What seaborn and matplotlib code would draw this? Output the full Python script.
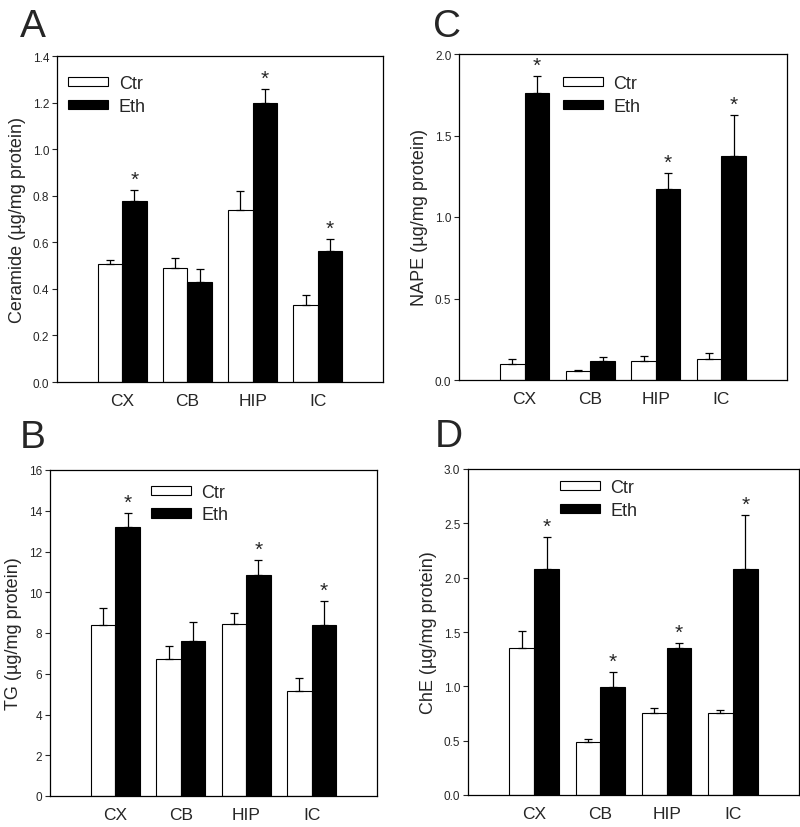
import matplotlib
matplotlib.use("Agg")
import matplotlib.pyplot as plt
import seaborn as sns
import pandas as pd
import numpy as np

# ---------------- data ----------------
regions = ['CX', 'CB', 'HIP', 'IC']
groups = ['Ctr', 'Eth']

# A: Ceramide
cer_ctr = [0.505, 0.49, 0.739, 0.329]
cer_ctr_err = [0.02, 0.041, 0.081, 0.043]
cer_eth = [0.776, 0.428, 1.197, 0.561]
cer_eth_err = [0.047, 0.059, 0.06, 0.053]
cer_sig = [True, False, True, True]

# B: TG
tg_ctr = [8.39, 6.73, 8.45, 5.16]
tg_ctr_err = [0.85, 0.62, 0.54, 0.65]
tg_eth = [13.2, 7.63, 10.86, 8.37]
tg_eth_err = [0.69, 0.89, 0.70, 1.21]
tg_sig = [True, False, True, True]

# C: NAPE
nape_ctr = [0.096, 0.053, 0.115, 0.127]
nape_ctr_err = [0.033, 0.01, 0.032, 0.039]
nape_eth = [1.759, 0.117, 1.172, 1.376]
nape_eth_err = [0.104, 0.026, 0.098, 0.25]
nape_sig = [True, False, True, True]

# D: ChE
che_ctr = [1.354, 0.488, 0.752, 0.752]
che_ctr_err = [0.154, 0.025, 0.048, 0.028]
che_eth = [2.082, 0.992, 1.351, 2.076]
che_eth_err = [0.294, 0.138, 0.049, 0.5]
che_sig = [True, True, True, True]

sns.set_theme(style="white")
plt.rcParams['font.family'] = ['Liberation Sans', 'DejaVu Sans']

fig = plt.figure(figsize=(8, 8.28), dpi=100)
W, H = 800, 828


def add_ax(left, right, top, bottom):
    return fig.add_axes([left / W, 1 - bottom / H, (right - left) / W, (bottom - top) / H])


def panel(ax, ctr, ctr_err, eth, eth_err, sig, ylim, yticks, ylabel, leg_xy, fmt):
    df = pd.DataFrame({
        'Region': regions * 2,
        'Value': list(ctr) + list(eth),
        'Group': ['Ctr'] * len(regions) + ['Eth'] * len(regions),
    })
    sns.barplot(data=df, x='Region', y='Value', hue='Group', order=regions,
                hue_order=groups, palette=['white', 'black'], edgecolor='black',
                linewidth=0.8, width=0.75, errorbar=None, legend=False,
                saturation=1, ax=ax)
    bars = list(ax.containers)
    errs = [ctr_err, eth_err]
    for k, cont in enumerate(bars):
        xs = [p.get_x() + p.get_width() / 2 for p in cont]
        ys = [p.get_height() for p in cont]
        e = errs[k]
        ax.errorbar(xs, ys, yerr=[np.zeros(len(e)), e], fmt='none',
                    ecolor='black', elinewidth=0.9, capsize=3.2, capthick=0.9)
        if k == 1:
            for x, y, ee, s in zip(xs, ys, e, sig):
                if s:
                    ax.annotate('*', (x, y + ee), xytext=(0, 1), textcoords='offset points',
                                ha='center', va='bottom', fontsize=15, color='.15')
    ax.set_xlim(-1, 4)
    ax.set_ylim(*ylim)
    ax.set_yticks(yticks)
    ax.set_yticklabels([fmt.format(t) for t in yticks])
    ax.set_xlabel('')
    ax.set_ylabel(ylabel, fontsize=13, labelpad=5)
    ax.tick_params(axis='y', direction='out', length=3.5, width=0.8, labelsize=8.5,
                   pad=2, left=True)
    ax.tick_params(axis='x', length=0, labelsize=12.5, pad=8)
    for sp in ax.spines.values():
        sp.set_visible(True)
        sp.set_color('black')
        sp.set_linewidth(0.9)
    handles = [bars[0][0], bars[1][0]]
    ax.legend(handles, groups, loc='upper left', bbox_to_anchor=leg_xy, frameon=False,
              fontsize=13, borderpad=0, borderaxespad=0, handlelength=2.2,
              handleheight=0.4, handletextpad=0.6, labelspacing=0.32)


axA = add_ax(57, 383, 57, 383)
panel(axA, cer_ctr, cer_ctr_err, cer_eth, cer_eth_err, cer_sig, (0, 1.4),
      np.arange(0, 1.41, 0.2), 'Ceramide (µg/mg protein)', (0.034, 0.942), '{:.1f}')

axC = add_ax(459, 787, 55, 381)
panel(axC, nape_ctr, nape_ctr_err, nape_eth, nape_eth_err, nape_sig, (0, 2.0),
      np.arange(0, 2.01, 0.5), 'NAPE (µg/mg protein)', (0.317, 0.935), '{:.1f}')

axB = add_ax(50, 377, 471, 797)
panel(axB, tg_ctr, tg_ctr_err, tg_eth, tg_eth_err, tg_sig, (0, 16),
      np.arange(0, 17, 2), 'TG (µg/mg protein)', (0.309, 0.958), '{:.0f}')

axD = add_ax(468, 799, 470, 796)
panel(axD, che_ctr, che_ctr_err, che_eth, che_eth_err, che_sig, (0, 3.0),
      np.arange(0, 3.01, 0.5), 'ChE (µg/mg protein)', (0.278, 0.97), '{:.1f}')

# panel letters
for letter, x, yb in [('A', 20, 37), ('C', 433, 37), ('B', 20, 448), ('D', 435, 447)]:
    fig.text(x / W, 1 - yb / H, letter, fontsize=28, va='baseline', ha='left')

fig.savefig('out.png', dpi=100)
